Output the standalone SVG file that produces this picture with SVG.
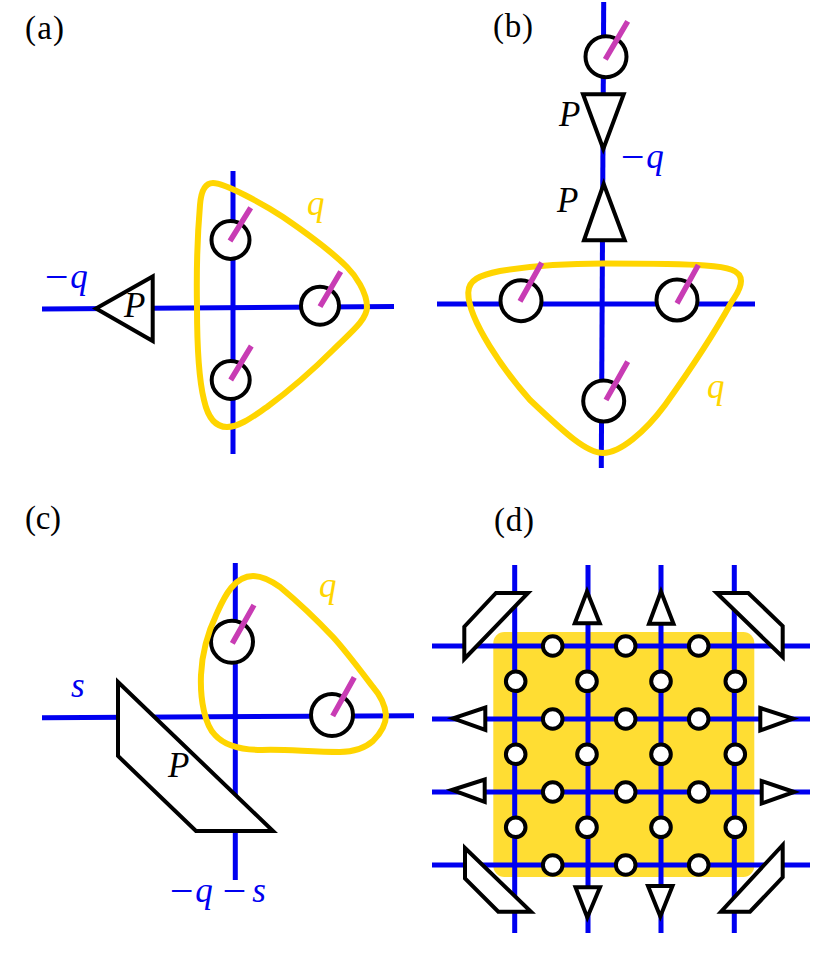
<svg xmlns="http://www.w3.org/2000/svg" width="831" height="964" viewBox="0 0 831 964">
<style>
.w{fill:none;stroke:#0000f0;stroke-width:5}
.y{fill:none;stroke:#ffd500;stroke-width:6}
.c{fill:#fff;stroke:#000;stroke-width:4}
.s{fill:#fff;stroke:#000;stroke-width:4;stroke-linejoin:miter}
.m{stroke:#c83cb4;stroke-width:5.5;fill:none}
text{font-family:"Liberation Serif",serif}
.l{font-size:33px;fill:#000}
.i{font-size:35px;font-style:italic}
.n{font-size:42px}
.k{fill:#000}.b{fill:#0000f0}.g{fill:#ffd500}
</style>
<rect width="831" height="964" fill="#fff"/>
<g id="panel-a">
<g id="a-wires"><path class="w" d="M42,309L394,306.500"/><path class="w" d="M233,171V454"/></g>
<g id="a-projector"><path class="s" d="M96,308.500L152.700,276.500V341Z"/><text class="i k" x="124" y="317">P</text></g>
<g id="a-sites"><circle class="c" cx="230.500" cy="240" r="19"/><circle class="c" cx="320" cy="305.700" r="19"/><circle class="c" cx="230.700" cy="380" r="19"/></g>
<path id="a-loop" class="y" d="M213,183C205,183 201,192 200,205C197,240 196.500,280 197,307C197,340 199,380 204,400C208,418 215,427 227,427C240,427 255,415 267,407C290,390 315,368 333,350C350,333 367,320 367,307C367,292 355,275 347,267C330,250 305,232 283,217C265,205 225,183 213,183Z"/>
<g id="a-spins"><path class="m" d="M230,241L250.700,207.700M320,306.700L340.700,271.700M230.700,380L251.300,346"/></g>
<text class="l" x="25" y="39" textLength="39">(a)</text>
<text class="i b" x="42" y="288"><tspan class="n" dy="3">−</tspan><tspan dy="-3">q</tspan></text>
<text class="i g" x="307" y="215">q</text>
</g>
<g id="panel-b">
<g id="b-wires"><path class="w" d="M603.700,2L601.300,468"/><path class="w" d="M437,304H755"/></g>
<g id="b-projectors"><path class="s" d="M583,94.300H623.700L603.300,149Z"/><path class="s" d="M603.700,184L584,240.300H624.700Z"/></g>
<g id="b-sites"><circle class="c" cx="606" cy="56.700" r="20.500"/><circle class="c" cx="521" cy="300.700" r="20.500"/><circle class="c" cx="677" cy="300" r="20.500"/><circle class="c" cx="603.700" cy="401" r="20.500"/></g>
<path id="b-loop" class="y" d="M468.300,293C468,280 480,275 500,271C530,266 570,263.500 603,263.500C640,263.500 680,263.500 705,265.500C728,267 741,270 741,281C741,290 735,296 731,303C715,332 690,370 665,405C645,432 620,453 603,453C585,453 560,428 530,400C505,372 468,320 468.300,293Z"/>
<g id="b-spins"><path class="m" d="M605.300,59.300L627.700,21.300M520,301.300L541.700,262.700M677,303.300L698.300,265M606,400L627.700,361.700"/></g>
<text class="l" x="493" y="37" textLength="40">(b)</text>
<text class="i k" x="559" y="126">P</text>
<text class="i k" x="557" y="212">P</text>
<text class="i b" x="618" y="168"><tspan class="n" dy="3">−</tspan><tspan dy="-3">q</tspan></text>
<text class="i g" x="707" y="398">q</text>
</g>
<g id="panel-c">
<g id="c-wires"><path class="w" d="M42,717.700L414,715.700"/><path class="w" d="M235.300,563V880"/></g>
<g id="c-projector"><path class="s" d="M118,682V756L196,831H273Z"/><text class="i k" x="168" y="777">P</text></g>
<g id="c-sites"><circle class="c" cx="232" cy="641.700" r="21"/><circle class="c" cx="332" cy="715" r="21"/></g>
<path id="c-loop" class="y" d="M253,576C235,576 225,595 217,613C208,632 202,650 201,675C200,700 205,725 215,735C225,746 240,750 262,750C285,749 310,752 340,752C355,752 365,748 373,741C381,733 386,725 386,715C385,705 380,695 373,687C360,670 345,650 333,637C315,618 298,602 280,587C270,580 262,576 253,576Z"/>
<g id="c-spins"><path class="m" d="M232.300,643.300L254,605M332.700,716L354.300,677.300"/></g>
<text class="l" x="25" y="529" textLength="36">(c)</text>
<text class="i g" x="319" y="597">q</text>
<text class="i b" x="71" y="697">s</text>
<text class="i b" x="167" y="902"><tspan class="n" dy="3">−</tspan><tspan dy="-3">q</tspan><tspan class="n" dx="7" dy="3">−</tspan><tspan dx="4" dy="-3">s</tspan></text>
</g>
<g id="panel-d">
<rect id="d-region" x="493.300" y="632" width="261" height="245" rx="11" fill="#ffdd33"/>
<g id="d-wires">
<path class="w" d="M514.700,565V933M588,565V933M661,565V933M734.300,565V933"/>
<path class="w" d="M432,646H810M432,719H810M432,792H810M432,865H810"/>
</g>
<g id="d-projectors">
<path class="s" d="M587,591.500L574.800,623.300H599.800Z"/>
<path class="s" d="M661,591.500L649,623.700H673.500Z"/>
<path class="s" d="M575.500,887.300H600L587.300,917.500Z"/>
<path class="s" d="M648,886H672.500L660.300,916.500Z"/>
<path class="s" d="M453,718.300L485.300,707.500V730Z"/>
<path class="s" d="M452,790L484.700,779.500V802Z"/>
<path class="s" d="M793,718.700L760.300,708V730.500Z"/>
<path class="s" d="M794,792L761.700,781V803.500Z"/>
<path class="s" d="M496,593H528L464.300,659V626.700Z"/>
<path class="s" d="M716.700,593H748.300L782.700,626V657Z"/>
<path class="s" d="M465,848V878.300L498.300,911.700H531Z"/>
<path class="s" d="M782.700,845V877.300L750,911.700H721Z"/>
</g>
<g id="d-sites">
<circle class="c" cx="552.700" cy="646" r="9.800"/><circle class="c" cx="625.700" cy="646" r="9.800"/><circle class="c" cx="698.700" cy="646" r="9.800"/>
<circle class="c" cx="552.700" cy="719" r="9.800"/><circle class="c" cx="625.700" cy="719" r="9.800"/><circle class="c" cx="698.700" cy="719" r="9.800"/>
<circle class="c" cx="552.700" cy="792" r="9.800"/><circle class="c" cx="625.700" cy="792" r="9.800"/><circle class="c" cx="698.700" cy="792" r="9.800"/>
<circle class="c" cx="552.700" cy="865" r="9.800"/><circle class="c" cx="625.700" cy="865" r="9.800"/><circle class="c" cx="698.700" cy="865" r="9.800"/>
<circle class="c" cx="515.700" cy="681.300" r="9.800"/><circle class="c" cx="587" cy="681.300" r="9.800"/><circle class="c" cx="661" cy="681.300" r="9.800"/><circle class="c" cx="735.300" cy="681.300" r="9.800"/>
<circle class="c" cx="515.700" cy="754.300" r="9.800"/><circle class="c" cx="587" cy="754.300" r="9.800"/><circle class="c" cx="661" cy="754.300" r="9.800"/><circle class="c" cx="735.300" cy="754.300" r="9.800"/>
<circle class="c" cx="515.700" cy="827.300" r="9.800"/><circle class="c" cx="587" cy="827.300" r="9.800"/><circle class="c" cx="661" cy="827.300" r="9.800"/><circle class="c" cx="735.300" cy="827.300" r="9.800"/>
</g>
<text class="l" x="494" y="531" textLength="40">(d)</text>
</g>
</svg>
